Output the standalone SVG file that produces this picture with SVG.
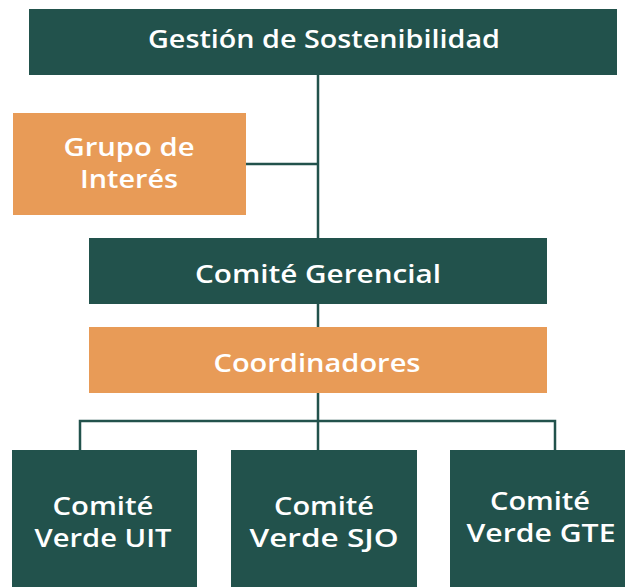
<svg xmlns="http://www.w3.org/2000/svg" width="625" height="587" viewBox="0 0 625 587">
<style>
.g{fill:#22524C}
.o{fill:#E89B57}
.t{fill:#ffffff;font-family:"Open Sans","Liberation Sans",sans-serif;font-weight:600;font-size:26px;text-anchor:middle}
.c{stroke:#22524C;stroke-width:2.5;fill:none}
</style>
<g id="connectors">
<path class="c" d="M318 74V238M246 164H318M318 303V327M318 392V450M80 450V421H555V450"/>
</g>
<g id="gestion"><rect class="g" x="29" y="9" width="588" height="66"/><text class="t" x="324" y="48" textLength="352" lengthAdjust="spacingAndGlyphs">Gestión de Sostenibilidad</text></g>
<g id="grupo"><rect class="o" x="13" y="113" width="233" height="102"/><text class="t" x="129" y="156" textLength="131" lengthAdjust="spacingAndGlyphs">Grupo de</text><text class="t" x="129" y="188" textLength="98" lengthAdjust="spacingAndGlyphs">Interés</text></g>
<g id="gerencial"><rect class="g" x="89" y="238" width="458" height="66"/><text class="t" x="318" y="283" textLength="246" lengthAdjust="spacingAndGlyphs">Comité Gerencial</text></g>
<g id="coordinadores"><rect class="o" x="89" y="327" width="458" height="66"/><text class="t" x="317" y="372" textLength="207" lengthAdjust="spacingAndGlyphs">Coordinadores</text></g>
<g id="uit"><rect class="g" x="12" y="450" width="185" height="137"/><text class="t" x="103" y="515" textLength="101" lengthAdjust="spacingAndGlyphs">Comité</text><text class="t" x="103" y="547" textLength="137" lengthAdjust="spacingAndGlyphs">Verde UIT</text></g>
<g id="sjo"><rect class="g" x="231" y="450" width="186" height="137"/><text class="t" x="324" y="515" textLength="100" lengthAdjust="spacingAndGlyphs">Comité</text><text class="t" x="324" y="547" textLength="149" lengthAdjust="spacingAndGlyphs">Verde SJO</text></g>
<g id="gte"><rect class="g" x="450" y="450" width="185" height="137"/><text class="t" x="540" y="510" textLength="100" lengthAdjust="spacingAndGlyphs">Comité</text><text class="t" x="541" y="542" textLength="149" lengthAdjust="spacingAndGlyphs">Verde GTE</text></g>
</svg>
